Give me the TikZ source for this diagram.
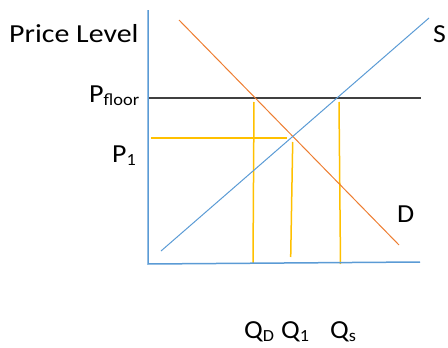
\documentclass[tikz,border=0pt]{standalone}
\usepackage{fontspec}
\setmainfont{Carlito}
\definecolor{axisblue}{HTML}{5B9BD5}
\definecolor{dorange}{HTML}{ED7D31}
\definecolor{gold}{HTML}{FFC000}
\definecolor{floorgray}{HTML}{404040}
\newcommand{\sbx}[1]{\raisebox{-3pt}{\fontsize{17}{17}\selectfont #1}}
\begin{document}
\begin{tikzpicture}[x=1pt,y=-1pt,
  lbl/.style={font=\fontsize{26}{26}\selectfont, inner sep=0pt, anchor=base west},
  axisline/.style={draw=axisblue, line width=1.5pt},
  supply/.style={draw=axisblue, line width=1pt},
  demand/.style={draw=dorange, line width=1pt},
  guide/.style={draw=gold, line width=1.5pt},
  floorline/.style={draw=floorgray, line width=1.5pt}]
\useasboundingbox (0,0) rectangle (448,348);
% coordinates
\coordinate (ytop) at (148,10);
\coordinate (origin) at (148,264);
\coordinate (xend) at (420,262);
\coordinate (s1) at (161,251);
\coordinate (s2) at (429,18);
\coordinate (d1) at (179,20);
\coordinate (d2) at (399,245);
\coordinate (f1) at (149,98);
\coordinate (f2) at (421,98);
\coordinate (p1a) at (151,138);
\coordinate (p1b) at (287,138);
\coordinate (qdt) at (254,102);
\coordinate (qdb) at (253,263);
\coordinate (q1t) at (292.7,142);
\coordinate (q1b) at (290.7,257);
\coordinate (qst) at (339,102);
\coordinate (qsb) at (340.5,264);
% lines
\draw[guide] (p1a) -- (p1b);
\draw[guide] (qdt) -- (qdb);
\draw[guide] (q1t) -- (q1b);
\draw[guide] (qst) -- (qsb);
\draw[floorline] (f1) -- (f2);
\draw[demand] (d1) -- (d2);
\draw[supply] (s1) -- (s2);
\draw[axisline] (ytop) -- (origin) -- (xend);
% labels
\node[lbl] (pl) at (9,42) {\scalebox{1.15}[1]{Price Level}};
\node[lbl] (sl) at (433,42) {\scalebox{1.07}[1]{S}};
\node[lbl] (pf) at (89,102) {\scalebox{1.08}[1]{P\sbx{floor}}};
\node[lbl] (p1) at (112,162) {\scalebox{1.07}[1]{P\sbx{1}}};
\node[lbl] (dl) at (397,222) {\scalebox{1.07}[1]{D}};
\node[lbl] (qd) at (244,338) {\scalebox{1.07}[1]{Q\sbx{D}}};
\node[lbl] (q1) at (281,338) {\scalebox{1.07}[1]{Q\sbx{1}}};
\node[lbl] (qs) at (330,338) {\scalebox{1.07}[1]{Q\sbx{s}}};
\end{tikzpicture}
\end{document}
